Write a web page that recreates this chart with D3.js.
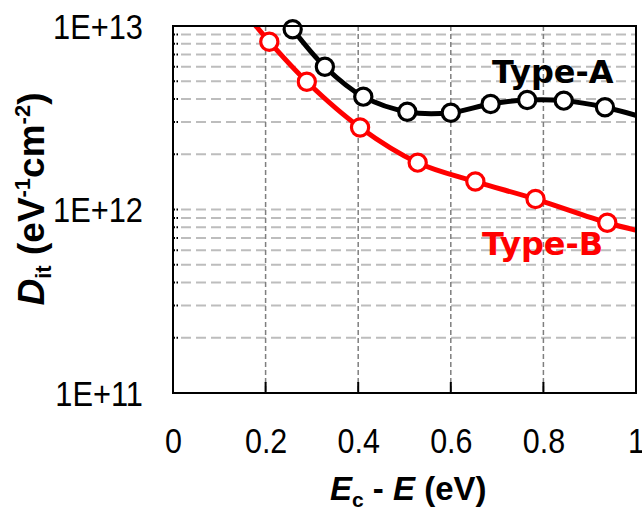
<!DOCTYPE html>
<html><head><meta charset="utf-8">
<script src="https://cdn.jsdelivr.net/npm/d3@7"></script>
<style>body{margin:0;background:#fff}</style>
</head><body><svg id="c" width="642" height="511"></svg>
<script>
// ---- data ----
const xA = [0.2585, 0.328, 0.411, 0.506, 0.600, 0.686, 0.765, 0.844, 0.933, 1.03];
const yA = [9.6e12, 6.0e12, 4.12e12, 3.41e12, 3.37e12, 3.76e12, 3.95e12, 3.92e12, 3.61e12, 3.1e12];
const xB = [0.14, 0.208, 0.289, 0.404, 0.5285, 0.653, 0.783, 0.938, 1.03];
const yB = [1.32e13, 8.21e12, 4.97e12, 2.8e12, 1.80e12, 1.42e12, 1.14e12, 8.47e11, 7.4e11];
const xTicks = [0, 0.2, 0.4, 0.6, 0.8, 1];
const xTickLabels = ["0", "0.2", "0.4", "0.6", "0.8", "1"];
const yTicks = [1e11, 1e12, 1e13];
const yTickLabels = ["1E+11", "1E+12", "1E+13"];
const seriesNames = ["Type-A", "Type-B"];
const seriesColors = ["#000000", "#ff0000"];

// ---- layout ----
const L = 173, R = 636, T = 26, B = 393;
const svg = d3.select("#c");
const x = d3.scaleLinear().domain([0, 1]).range([L, R]);
const y = d3.scaleLog().domain([1e11, 1e13]).range([B, T]);

svg.append("defs").append("clipPath").attr("id", "plot")
  .append("rect").attr("x", L).attr("y", T).attr("width", R - L).attr("height", B - T);

const minorVals = [];
for (let d = 1e11; d < 1e13; d *= 10) for (let k = 2; k <= 9; k++) minorVals.push(d * k);
const hGrid = minorVals.concat([1e12]);

svg.append("g").selectAll("line").data(hGrid).join("line")
  .attr("x1", L + 8).attr("x2", R).attr("y1", d => y(d)).attr("y2", d => y(d))
  .attr("stroke", "#bdbdbd").attr("stroke-width", 2).attr("stroke-dasharray", "10,5");

svg.append("g").selectAll("line").data(xTicks.slice(1, -1)).join("line")
  .attr("x1", d => x(d)).attr("x2", d => x(d)).attr("y1", T).attr("y2", B)
  .attr("stroke", "#7f7f7f").attr("stroke-width", 1.5).attr("stroke-dasharray", "5,3");

svg.append("g").selectAll("line").data(hGrid).join("line")
  .attr("x1", L).attr("x2", L + 5).attr("y1", d => y(d)).attr("y2", d => y(d))
  .attr("stroke", "#000").attr("stroke-width", 2).attr("stroke-dasharray", "2,1.5");

svg.append("g").selectAll("line").data(xTicks.slice(1, -1)).join("line")
  .attr("x1", d => x(d)).attr("x2", d => x(d)).attr("y1", B).attr("y2", B - 11)
  .attr("stroke", "#000").attr("stroke-width", 2);

// series
const series = [
  { name: seriesNames[0], color: seriesColors[0], pts: xA.map((v, i) => [v, yA[i]]) },
  { name: seriesNames[1], color: seriesColors[1], pts: xB.map((v, i) => [v, yB[i]]) }
];
const line = d3.line().x(d => x(d[0])).y(d => y(d[1])).curve(d3.curveCatmullRom.alpha(0.5));
const gs = svg.append("g");
series.forEach(s => {
  gs.append("path").attr("d", line(s.pts)).attr("fill", "none")
    .attr("stroke", s.color).attr("stroke-width", 5).attr("clip-path", "url(#plot)");
});
series.forEach(s => {
  gs.append("g").selectAll("circle")
    .data(s.pts.filter(p => p[0] >= 0 && p[0] <= 1 && p[1] <= 1e13)).join("circle")
    .attr("cx", d => x(d[0])).attr("cy", d => y(d[1])).attr("r", 8.6)
    .attr("fill", "#fff").attr("stroke", s.color).attr("stroke-width", 3.2);
});

svg.append("rect").attr("x", L).attr("y", T).attr("width", R - L).attr("height", B - T)
  .attr("fill", "none").attr("stroke", "#000").attr("stroke-width", 2);

// axes tick labels (narrow-looking font: compress horizontally)
function narrow(sel, k) {
  sel.each(function () {
    const w = this.getComputedTextLength();
    d3.select(this).attr("textLength", w * k).attr("lengthAdjust", "spacingAndGlyphs");
  });
}
const xAxis = d3.axisBottom(x).tickValues(xTicks).tickFormat((d, i) => xTickLabels[i]).tickSize(0);
const gx = svg.append("g").attr("transform", `translate(0,${B})`).call(xAxis);
gx.select(".domain").remove();
gx.selectAll("text").attr("y", 60).attr("dy", null)
  .attr("font-family", "Liberation Sans, Arial, sans-serif").attr("font-size", 35).attr("fill", "#000")
  .call(narrow, 0.87);

const yAxis = d3.axisLeft(y).tickValues(yTicks).tickFormat((d, i) => yTickLabels[i]).tickSize(0);
const gy = svg.append("g").attr("transform", `translate(${L},0)`).call(yAxis);
gy.select(".domain").remove();
gy.selectAll("text").attr("x", -30).attr("y", 12.3).attr("dy", null)
  .attr("font-family", "Liberation Sans, Arial, sans-serif").attr("font-size", 35).attr("fill", "#000")
  .call(narrow, 0.88);

// series labels
svg.append("text").attr("x", 492).attr("y", 83).text(seriesNames[0])
  .attr("font-family", "DejaVu Sans, sans-serif").attr("font-weight", "bold").attr("font-size", 32).attr("fill", seriesColors[0]);
svg.append("text").attr("x", 482).attr("y", 255).text(seriesNames[1])
  .attr("font-family", "DejaVu Sans, sans-serif").attr("font-weight", "bold").attr("font-size", 32).attr("fill", seriesColors[1]);

// x title
const xt = svg.append("text").attr("x", 330).attr("y", 500)
  .attr("font-family", "Liberation Sans, Arial, sans-serif").attr("font-weight", "bold").attr("font-size", 33).attr("fill", "#000");
xt.append("tspan").attr("font-style", "italic").text("E");
xt.append("tspan").attr("font-size", 21).attr("dy", 7).text("c");
xt.append("tspan").attr("dy", -7).text(" - ");
xt.append("tspan").attr("font-style", "italic").text("E");
xt.append("tspan").text(" (eV)");

// y title
const yt = svg.append("text").attr("transform", "translate(44,199) rotate(-90)").attr("text-anchor", "middle")
  .attr("font-family", "Liberation Sans, Arial, sans-serif").attr("font-weight", "bold").attr("font-size", 37).attr("fill", "#000");
yt.append("tspan").attr("font-style", "italic").text("D");
yt.append("tspan").attr("font-size", 22).attr("dy", 7).text("it");
yt.append("tspan").attr("dy", -7).text(" (eV");
yt.append("tspan").attr("font-size", 22).attr("dy", -14).text("-1");
yt.append("tspan").attr("dy", 14).text("cm");
yt.append("tspan").attr("font-size", 22).attr("dy", -14).text("-2");
yt.append("tspan").attr("dy", 14).text(")");
</script></body></html>
